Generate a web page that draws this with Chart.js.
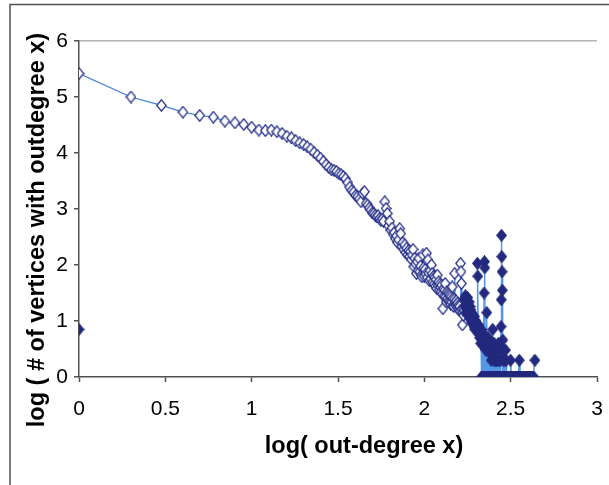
<!DOCTYPE html>
<html>
<head>
<meta charset="utf-8">
<script src="https://cdn.jsdelivr.net/npm/chart.js@4/dist/chart.umd.min.js"></script>
<style>
  html, body { margin: 0; padding: 0; background: #fff; }
  #wrap { width: 609px; height: 485px; }
</style>
</head>
<body>
<div id="wrap"><canvas id="degChart" width="609" height="485"></canvas></div>
<script>
// log10(count) for out-degree k = 1 .. 170 (open diamonds)
var openLogCount = [
  5.42, 5.00, 4.85, 4.73, 4.67, 4.64, 4.57, 4.54, 4.51, 4.46,
  4.41, 4.40, 4.41, 4.38, 4.35, 4.30, 4.27, 4.22, 4.18, 4.15,
  4.11, 4.07, 4.01, 3.96, 3.91, 3.85, 3.79, 3.74, 3.70, 3.69,
  3.67, 3.63, 3.61, 3.58, 3.54, 3.47, 3.39, 3.33, 3.30, 3.24,
  3.22, 3.18, 3.13, 3.28, 3.31, 3.10, 3.07, 3.02, 2.98, 2.93,
  2.92, 2.89, 2.86, 2.88, 2.83, 2.80, 2.82, 2.78, 3.13, 3.01,
  2.92, 2.70, 2.78, 2.62, 2.66, 2.55, 2.58, 2.47, 2.52, 2.40,
  2.45, 2.65, 2.56, 2.33, 2.40, 2.28, 2.36, 2.22, 2.30, 2.18,
  2.26, 2.15, 2.24, 2.10, 2.18, 2.28, 1.97, 2.12, 2.02, 1.85,
  2.06, 1.90, 2.12, 1.88, 1.98, 1.82, 1.79, 2.18, 1.95, 1.80,
  1.92, 1.84, 2.21, 1.78, 2.09, 1.86, 1.72, 1.90, 1.75, 2.00,
  1.85, 1.70, 1.80, 1.66, 1.78, 1.62, 1.74, 1.58, 1.82, 1.64,
  1.70, 1.56, 1.66, 1.60, 1.52, 1.64, 1.48, 1.22, 1.58, 1.45,
  1.55, 1.67, 1.44, 1.34, 1.52, 1.40, 1.50, 1.36, 1.48, 1.34,
  1.46, 1.30, 1.43, 1.34, 1.61, 1.40, 1.28, 1.26, 1.39, 1.85,
  1.34, 1.28, 1.36, 1.30, 1.25, 1.32, 1.22, 1.28, 1.20, 1.26,
  1.18, 2.03, 1.88, 1.67, 1.20, 0.93, 1.15, 1.22, 1.10, 1.18
];

// filled diamonds: lone point at degree 1, then the tail k = 171 .. 300, then a sparse far tail
var loneDegree = [1];
var loneLogCount = [0.85];

var tailStart = 171;
var tailLogCount = [
  1.40, 1.25, 1.45, 1.15, 1.30, 1.36, 1.20, 1.42, 1.10, 1.28,
  1.18, 1.34, 1.05, 1.26, 1.12, 1.20, 0.98, 1.15, 1.08, 0.95,
  1.11, 1.00, 1.04, 0.90, 1.08, 0.85, 0.98, 0.92, 1.00, 0.84,
  0.90, 0.95, 2.03, 1.80, 0.88, 0.78, 0.92, 0.85, 0.70, 0.82,
  0.76, 0.60, 0.85, 0, 0.72, 0.65, 0, 0.80, 0.58, 0,
  0.70, 1.50, 2.06, 1.95, 0, 0.62, 0.48, 0, 0.55, 1.15,
  0, 0.60, 0.48, 0, 0.70, 0, 0.45, 0.52, 0, 0.60,
  0, 0.48, 0, 0.30, 0.55, 0, 0.48, 0, 0.85, 0,
  0.45, 0, 0.30, 0.60, 0, 0.48, 0, 0.30, 0, 0.48,
  0, 0.30, 0, 0.48, 0, 0, 0.30, 0, 0.60, 0,
  0, 0.30, 0, 0.48, 0, 0.30, 0, 0.90, 1.38, 2.53,
  2.15, 1.88, 1.55, 0, 0.66, 0, 0.30, 0, 0.48, 0,
  0, 0.30, 0, 0, 0.48, 0, 0, 0.30, 0, 0
];

var farDegree = [302, 305, 308, 311, 314, 316, 319, 322, 325, 328, 331, 334, 337, 340, 343, 346, 349, 352, 355, 358,
                 362, 366, 370, 374, 378, 382, 386, 390, 394, 398, 402, 406, 410, 414, 418, 422, 426, 430, 437];
var farLogCount = [0, 0, 0, 0, 0, 0.30, 0, 0, 0, 0, 0, 0, 0, 0, 0, 0, 0, 0, 0.30, 0,
                   0, 0, 0, 0, 0, 0, 0, 0, 0, 0, 0, 0, 0, 0, 0, 0, 0, 0, 0.30];

var xTicks = [0, 0.5, 1, 1.5, 2, 2.5, 3];
var yTicks = [0, 1, 2, 3, 4, 5, 6];

var FONT = "'Liberation Sans', Arial, sans-serif";

var openPoints = openLogCount.map(function (v, i) {
  return { x: Math.log10(i + 1), y: v };
});

var filledPoints = [];
loneDegree.forEach(function (d, i) { filledPoints.push({ x: Math.log10(d), y: loneLogCount[i] }); });
filledPoints.push({ x: Math.log10(2), y: null }); // break the line after the lone point
tailLogCount.forEach(function (v, i) { filledPoints.push({ x: Math.log10(tailStart + i), y: v }); });
farDegree.forEach(function (d, i) { filledPoints.push({ x: Math.log10(d), y: farLogCount[i] }); });

// Excel-like tall diamond markers
function diamond(fill, stroke) {
  var c = document.createElement('canvas');
  c.width = 11; c.height = 13;
  var g = c.getContext('2d');
  g.beginPath();
  g.moveTo(5.5, 0.8); g.lineTo(10.2, 6.5); g.lineTo(5.5, 12.2); g.lineTo(0.8, 6.5);
  g.closePath();
  g.fillStyle = fill; g.fill();
  g.strokeStyle = stroke; g.lineWidth = 1.3; g.stroke();
  return c;
}
var openDiamond = diamond('#fff', '#26308a');
var fullDiamond = diamond('#232a7e', '#232a7e');

// chart frame and the two axis titles
var framePlugin = {
  id: 'frame',
  beforeDraw: function (chart) {
    var ctx = chart.ctx;
    ctx.save();
    ctx.fillStyle = '#fff';
    ctx.fillRect(0, 0, chart.width, chart.height);
    ctx.strokeStyle = '#505050';
    ctx.lineWidth = 1.5;
    ctx.strokeRect(10, 4.5, 900, 900);
    ctx.restore();
  },
  afterDraw: function (chart) {
    var ctx = chart.ctx;
    ctx.save();
    ctx.fillStyle = '#000';
    ctx.font = 'bold 23.5px ' + FONT;
    ctx.textAlign = 'center';
    ctx.textBaseline = 'middle';
    ctx.fillText('log( out-degree x)', 364, 447);
    ctx.translate(38, 230);
    ctx.rotate(-Math.PI / 2);
    ctx.fillText('log ( # of vertices with outdegree x)', 0, 0);
    ctx.restore();
  }
};

new Chart(document.getElementById('degChart'), {
  type: 'scatter',
  data: {
    datasets: [
      {
        label: 'tail',
        data: filledPoints,
        order: 0,
        showLine: true,
        spanGaps: false,
        borderColor: '#5596e6',
        borderWidth: 1.5,
        pointStyle: fullDiamond,
        pointRadius: 5
      },
      {
        label: 'degree',
        data: openPoints,
        order: 1,
        showLine: true,
        borderColor: '#3f7fd6',
        borderWidth: 1.2,
        pointStyle: openDiamond,
        pointRadius: 5
      }
    ]
  },
  options: {
    responsive: false,
    animation: false,
    layout: { padding: { top: 41, right: 12, bottom: 0, left: 0 } },
    plugins: { legend: { display: false }, tooltip: { enabled: false } },
    scales: {
      x: {
        type: 'linear', min: 0, max: 3,
        afterBuildTicks: function (s) { s.ticks = xTicks.map(function (v) { return { value: v }; }); },
        ticks: {
          color: '#000', font: { family: FONT, size: 21 }, padding: 15, maxRotation: 0, autoSkip: false,
          callback: function (v) { return String(v); }
        },
        grid: { drawOnChartArea: false, drawTicks: true, tickLength: 5, tickColor: '#505050', tickWidth: 1.5 },
        border: { color: '#505050', width: 1.5 },
        afterFit: function (s) { s.height = 108; s.paddingLeft = 0; s.paddingRight = 0; }
      },
      y: {
        type: 'linear', min: 0, max: 6,
        afterBuildTicks: function (s) { s.ticks = yTicks.map(function (v) { return { value: v }; }); },
        ticks: { color: '#000', font: { family: FONT, size: 21 }, padding: 6 },
        grid: {
          color: function (c) { return c.tick && c.tick.value === 6 ? '#b4b4b4' : 'rgba(0,0,0,0)'; },
          lineWidth: 1.5, tickLength: 5, tickColor: '#505050', tickWidth: 1.5
        },
        border: { color: '#505050', width: 1.5 },
        afterFit: function (s) { s.width = 79; s.paddingTop = 0; s.paddingBottom = 0; }
      }
    }
  },
  plugins: [framePlugin]
});
</script>
</body>
</html>
